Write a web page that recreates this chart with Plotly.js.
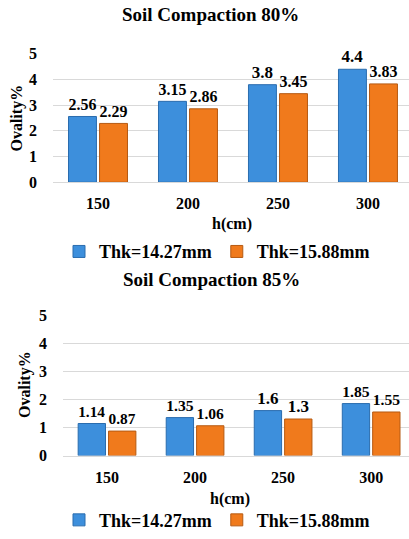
<!DOCTYPE html>
<html>
<head>
<meta charset="utf-8">
<script src="https://cdn.plot.ly/plotly-3.0.1.min.js"></script>
<style>html,body{margin:0;padding:0;background:#fff;}#chart{width:409px;height:539px;}</style>
</head>
<body>
<div id="chart"></div>
<script>
const categories = ["150", "200", "250", "300"];
const seriesNames = ["Thk=14.27mm", "Thk=15.88mm"];
const compaction80Thk1427 = [2.56, 3.15, 3.8, 4.4];
const compaction80Thk1588 = [2.29, 2.86, 3.45, 3.83];
const compaction85Thk1427 = [1.14, 1.35, 1.6, 1.85];
const compaction85Thk1588 = [0.87, 1.06, 1.3, 1.55];
const yTicks = [0, 1, 2, 3, 4, 5];
const chartTitles = ["Soil Compaction 80%", "Soil Compaction 85%"];
const xTitle = "h(cm)";
const yTitle = "Ovality%";

const W = 409, H = 539;
const serif = "Liberation Serif, Times New Roman, serif";
const blue = "#3d8fdc", blueEdge = "#2a6cae";
const orange = "#f07a1c", orangeEdge = "#b65a12";
const px = v => v / W;
const py = v => 1 - v / H;

function barTrace(name, values, color, edge, xa, ya, legend, show) {
  return {
    type: "bar", name: name, x: categories, y: values,
    xaxis: xa, yaxis: ya, legend: legend, showlegend: show,
    marker: {color: color, line: {color: edge, width: 1}},
    texttemplate: "%{y}", textposition: "outside", cliponaxis: false,
    textfont: {family: serif, size: 17, color: "#000", weight: 700},
    hoverinfo: "x+y"
  };
}

const data = [
  barTrace(seriesNames[0], compaction80Thk1427, blue, blueEdge, "x", "y", "legend", true),
  barTrace(seriesNames[1], compaction80Thk1588, orange, orangeEdge, "x", "y", "legend", true),
  barTrace(seriesNames[0], compaction85Thk1427, blue, blueEdge, "x2", "y2", "legend2", true),
  barTrace(seriesNames[1], compaction85Thk1588, orange, orangeEdge, "x2", "y2", "legend2", true)
];

const tickFont = {family: serif, size: 16, color: "#000", weight: 700};
function yAxis(domain, anchor) {
  return {
    domain: domain, anchor: anchor, range: [0, 5], tickvals: yTicks,
    showgrid: true, gridcolor: "#d9d9d9", gridwidth: 1, zeroline: false,
    showline: false, ticks: "", tickfont: tickFont, ticklabelstandoff: 15, fixedrange: true
  };
}
function xAxis(domain, anchor, right) {
  return {
    domain: domain, anchor: anchor, type: "category", range: [-0.5, right],
    showline: true, linecolor: "#d9d9d9", linewidth: 1, showgrid: false,
    ticks: "", tickfont: tickFont, ticklabelstandoff: 7, fixedrange: true
  };
}
const legendFont = {family: serif, size: 18, color: "#000", weight: 700};

const layout = {
  width: W, height: H,
  margin: {l: 0, r: 0, t: 0, b: 0},
  paper_bgcolor: "#fff", plot_bgcolor: "#fff",
  barmode: "group", bargap: 0.31, bargroupgap: 0.1,
  showlegend: true,
  xaxis: xAxis([px(53), 1], "y", 3.456),
  yaxis: yAxis([py(186), py(55)], "x"),
  xaxis2: xAxis([px(63), 1], "y2", 3.43),
  yaxis2: yAxis([py(465), py(321.7)], "x2"),
  legend: {orientation: "h", x: px(59), xanchor: "left", y: py(257), yanchor: "middle",
           font: legendFont, bgcolor: "rgba(0,0,0,0)"},
  legend2: {orientation: "h", x: px(59), xanchor: "left", y: py(531), yanchor: "middle",
            font: legendFont, bgcolor: "rgba(0,0,0,0)"},
  annotations: [
    {text: chartTitles[0], x: px(210), y: py(15)},
    {text: chartTitles[1], x: px(211), y: py(285)}
  ].map(a => Object.assign(a, {xref: "paper", yref: "paper", xanchor: "center", yanchor: "middle",
        showarrow: false, font: {family: serif, size: 19, color: "#000", weight: 700}}))
  .concat([
    {text: xTitle, x: px(232), y: py(229)},
    {text: xTitle, x: px(230), y: py(509)},
    {text: yTitle, x: px(17), y: py(121), textangle: -90},
    {text: yTitle, x: px(25), y: py(393), textangle: -90}
  ].map(a => Object.assign(a, {xref: "paper", yref: "paper", xanchor: "center", yanchor: "middle",
        showarrow: false, font: {family: serif, size: 16, color: "#000", weight: 700}})))
};

Plotly.newPlot("chart", data, layout, {displayModeBar: false, staticPlot: true});
</script>
</body>
</html>
